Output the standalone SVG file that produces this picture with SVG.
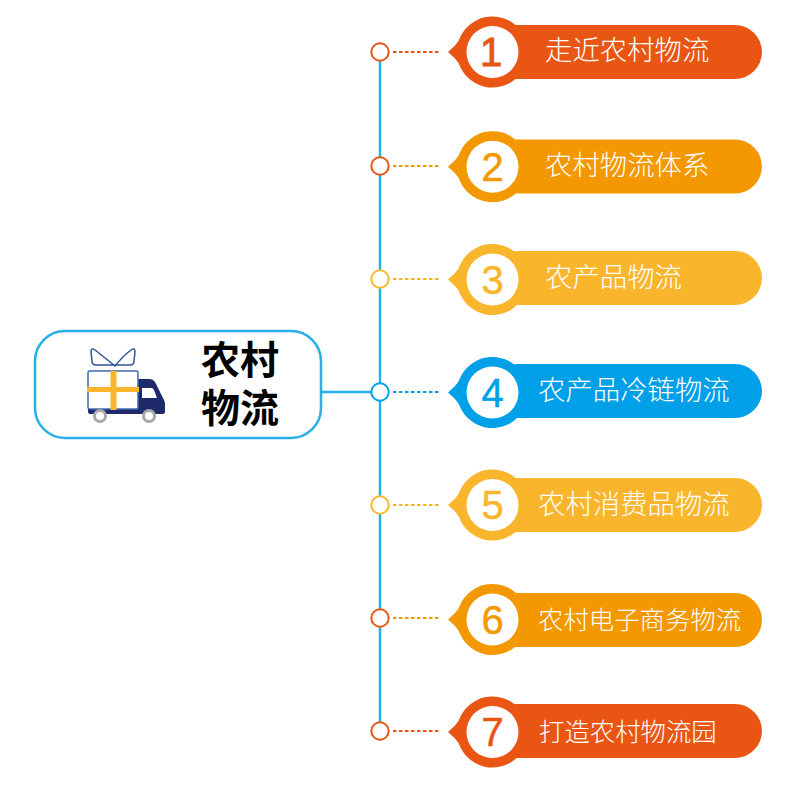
<svg xmlns="http://www.w3.org/2000/svg" width="800" height="800" viewBox="0 0 800 800">
<style>
text{font-family:"Noto Sans CJK SC","Liberation Sans",sans-serif}
.lab{font-size:27.4px;fill:#fff;font-weight:300}
.lab2{font-size:25.4px;fill:#fff;font-weight:300}
.title{font-family:"Liberation Sans","Noto Sans CJK SC",sans-serif;font-size:39px;font-weight:700;fill:#000}
.num{font-family:"Liberation Sans",sans-serif;font-size:40px;text-anchor:middle;stroke-width:.5}
.hub{fill:#fff;stroke-width:2}
.dot{fill:none;stroke-width:2;stroke-dasharray:3.500 2.500}
.trunk{stroke:#29aeea;stroke-width:2.500;fill:none}
.pill{width:272px;height:54px;rx:27px}
.o{fill:#e95513}.a{fill:#f39800}.y{fill:#f9b62d}.b{fill:#00a0e9}
.so{stroke:#e95513}.sa{stroke:#f39800}.sy{stroke:#f9b62d}.sb{stroke:#00a0e9}
</style>
<defs>
<path id="badge" d="M-44.500 0L-37.500-6.500Q-33.500-10.500-32-15.500A35.500 35.500 0 1 1 -32 15.500Q-33.500 10.500-37.500 6.500Z"/>
</defs>
<g id="connectors">
<path class="trunk" d="M380 52V731"/>
<path class="trunk" d="M322 392H380"/>
<path class="dot so" d="M393 52H440"/>
<path class="dot sa" d="M393 166H440"/>
<path class="dot sy" d="M393 279H440"/>
<path class="dot sb" d="M393 392H440"/>
<path class="dot sy" d="M393 505H440"/>
<path class="dot sa" d="M393 618H440"/>
<path class="dot so" d="M393 731H440"/>
</g>
<g id="root">
<rect x="35" y="331" width="286" height="107" rx="30" fill="#fff" stroke="#29aeea" stroke-width="2.500"/>
<g id="truck">
<path d="M137 379H150Q153 379 155 382L163 398Q165 401 165 404V412Q165 414 163 414H90Q88 414 88 411V409H137Z" fill="#1f2a6b"/>
<path d="M142 388H151Q153 388 154 390L157 398H142Z" fill="#fff"/>
<rect x="88" y="371" width="50" height="38" rx="1.500" fill="#fff" stroke="#3f6bb0" stroke-width="1.500"/>
<rect x="110.500" y="371" width="6" height="39" fill="#f9b62d"/>
<rect x="87" y="387" width="52" height="5" fill="#f9b62d"/>
<path d="M115 366Q104 357 95 350Q91 347 91 352L92 361Q92 365 96 365H115Q126 365 130 365Q134 365 134 361L135 352Q135 347 131 350Q123 356 115 366Z" fill="#fff" stroke="#2f5597" stroke-width="1.500" stroke-linejoin="round"/>
<circle cx="100" cy="416" r="5.500" fill="#fff" stroke="#a8a8a8" stroke-width="3"/>
<circle cx="149" cy="416" r="5.500" fill="#fff" stroke="#a8a8a8" stroke-width="3"/>
</g>
<text class="title" x="201" y="374">农村</text>
<text class="title" x="201" y="422">物流</text>
</g>
<g id="hubs">
<circle class="hub so" cx="380" cy="52" r="8.700"/>
<circle class="hub so" cx="380" cy="166" r="8.700"/>
<circle class="hub sy" cx="380" cy="279" r="8.700"/>
<circle class="hub sb" cx="380" cy="392" r="8.700"/>
<circle class="hub sy" cx="380" cy="505" r="8.700"/>
<circle class="hub so" cx="380" cy="618" r="8.700"/>
<circle class="hub so" cx="380" cy="731" r="8.700"/>
</g>
<g id="item1"><rect class="pill o" x="490" y="25"/><use href="#badge" class="o" x="492.500" y="52"/><circle cx="492.500" cy="52" r="26" fill="#fff"/><text class="num o so" x="491" y="66" style="stroke-width:1">1</text><text class="lab" x="545" y="60">走近农村物流</text></g>
<g id="item2"><rect class="pill a" x="490" y="139.500"/><use href="#badge" class="a" x="492.500" y="166.700"/><circle cx="492.500" cy="166.700" r="26" fill="#fff"/><text class="num a sa" x="492.500" y="180.500">2</text><text class="lab" x="545" y="175">农村物流体系</text></g>
<g id="item3"><rect class="pill y" x="490" y="251"/><use href="#badge" class="y" x="492.500" y="279.500"/><circle cx="492.500" cy="279.500" r="26" fill="#fff"/><text class="num y sy" x="492.500" y="293.500">3</text><text class="lab" x="545" y="287">农产品物流</text></g>
<g id="item4"><rect class="pill b" x="490" y="364"/><use href="#badge" class="b" x="492.500" y="392.500"/><circle cx="492.500" cy="392.500" r="26" fill="#fff"/><text class="num b sb" x="492.500" y="406.500">4</text><text class="lab" x="538" y="400">农产品冷链物流</text></g>
<g id="item5"><rect class="pill y" x="490" y="478"/><use href="#badge" class="y" x="492.500" y="505"/><circle cx="492.500" cy="505" r="26" fill="#fff"/><text class="num y sy" x="492.500" y="519">5</text><text class="lab" x="538" y="514">农村消费品物流</text></g>
<g id="item6"><rect class="pill a" x="490" y="593"/><use href="#badge" class="a" x="492.500" y="619.500"/><circle cx="492.500" cy="619.500" r="26" fill="#fff"/><text class="num a sa" x="492.500" y="634">6</text><text class="lab2" x="538" y="629">农村电子商务物流</text></g>
<g id="item7"><rect class="pill o" x="490" y="704"/><use href="#badge" class="o" x="492.500" y="732"/><circle cx="492.500" cy="732" r="26" fill="#fff"/><text class="num o so" x="492.500" y="746">7</text><text class="lab2" x="539" y="741">打造农村物流园</text></g>
</svg>
